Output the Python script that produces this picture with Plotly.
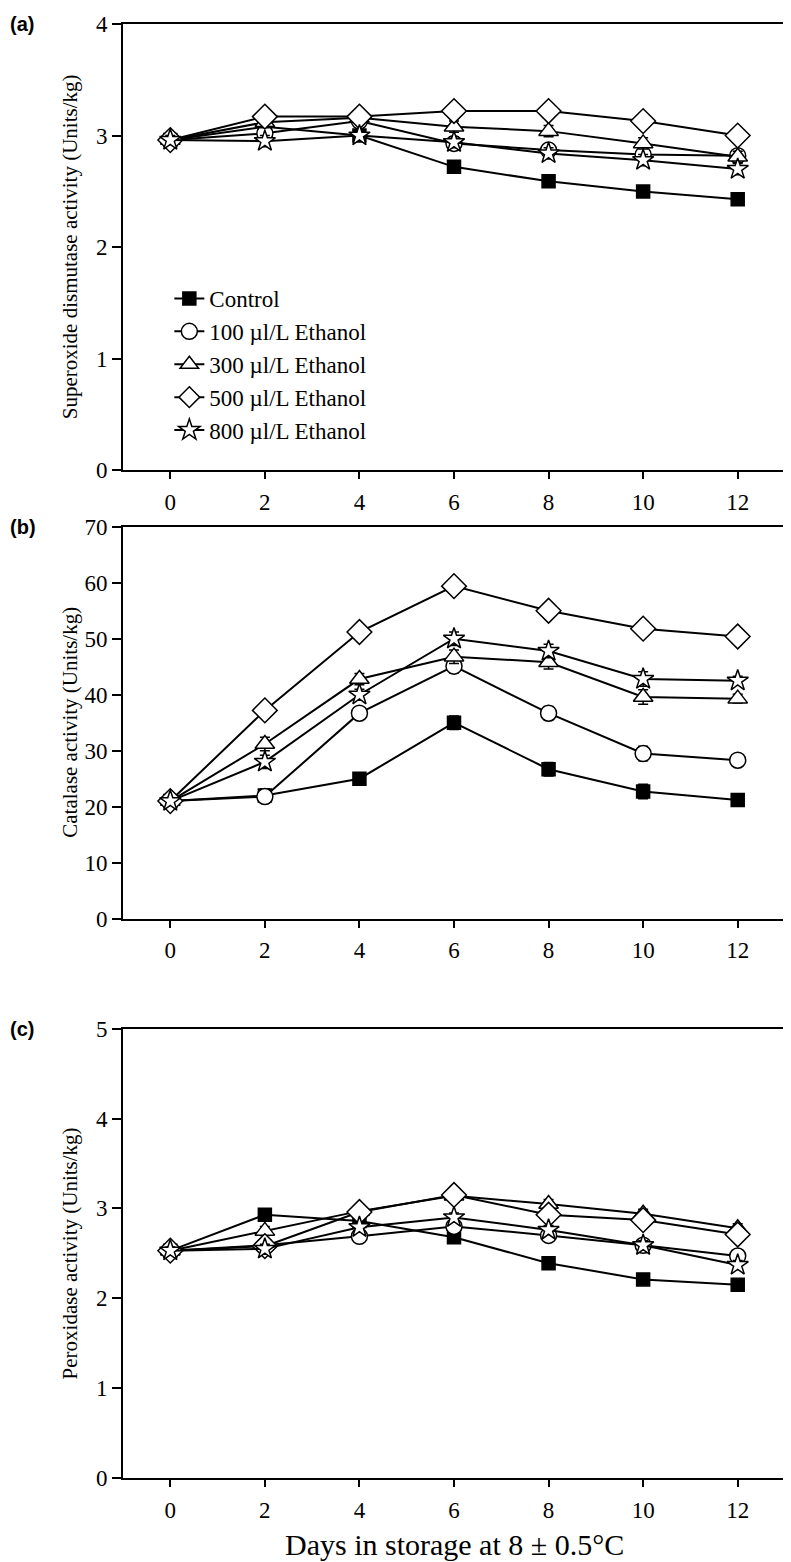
import plotly.graph_objects as go
from plotly.subplots import make_subplots

days = [0, 2, 4, 6, 8, 10, 12]
names = ['Control', '100 µl/L Ethanol', '300 µl/L Ethanol', '500 µl/L Ethanol', '800 µl/L Ethanol']

# (a) superoxide dismutase
sod_control = [2.96, 3.08, 3.00, 2.72, 2.59, 2.50, 2.43]
sod_100 = [2.96, 3.02, 3.13, 2.93, 2.87, 2.83, 2.82]
sod_300 = [2.96, 3.12, 3.16, 3.08, 3.04, 2.93, 2.81]
sod_500 = [2.96, 3.17, 3.17, 3.22, 3.22, 3.13, 3.00]
sod_800 = [2.96, 2.95, 3.00, 2.94, 2.84, 2.78, 2.70]
sod_err = [0.04, 0.05, 0.05, 0.05, 0.05, 0.05, 0.05]

# (b) catalase
cat_control = [21.0, 22.0, 25.0, 35.0, 26.7, 22.7, 21.2]
cat_100 = [21.0, 21.8, 36.7, 45.1, 36.7, 29.5, 28.3]
cat_300 = [21.0, 31.2, 42.8, 46.8, 45.8, 39.6, 39.3]
cat_500 = [21.0, 37.2, 51.2, 59.4, 55.0, 51.8, 50.4]
cat_800 = [21.0, 28.0, 40.0, 50.0, 47.8, 42.8, 42.5]
cat_err = [0.6, 1.2, 1.0, 1.2, 1.2, 1.3, 0.8]

# (c) peroxidase
pod_control = [2.53, 2.93, 2.86, 2.68, 2.39, 2.21, 2.15]
pod_100 = [2.53, 2.59, 2.69, 2.80, 2.70, 2.59, 2.47]
pod_300 = [2.53, 2.75, 2.97, 3.14, 3.05, 2.94, 2.78]
pod_500 = [2.53, 2.58, 2.96, 3.15, 2.93, 2.87, 2.71]
pod_800 = [2.53, 2.55, 2.79, 2.90, 2.76, 2.59, 2.37]
pod_err = [0.04, 0.05, 0.05, 0.05, 0.05, 0.05, 0.05]

panels = [
    [sod_control, sod_100, sod_300, sod_500, sod_800],
    [cat_control, cat_100, cat_300, cat_500, cat_800],
    [pod_control, pod_100, pod_300, pod_500, pod_800],
]
errors = [sod_err, cat_err, pod_err]
symbols = ['square', 'circle', 'triangle-up', 'diamond', 'star']
fills = ['black', 'white', 'white', 'white', 'white']
sizes = [13, 16, 17, 19, 16]

serif = 'Liberation Serif, Times New Roman, serif'

fig = make_subplots(rows=3, cols=1)

for r, series in enumerate(panels):
    for k, vals in enumerate(series):
        fig.add_trace(go.Scatter(
            x=days, y=vals, name=names[k], mode='lines+markers',
            showlegend=(r == 0),
            line=dict(color='black', width=2),
            marker=dict(symbol=symbols[k], size=sizes[k], color=fills[k],
                        line=dict(color='black', width=1.5)),
            error_y=dict(type='data', array=errors[r], color='black', thickness=1.5, width=5),
        ), row=r + 1, col=1)

doms = [[0.6930, 1.0], [0.3847, 0.6542], [0.0, 0.3090]]
yranges = [[0, 4], [0, 70], [0, 5]]
dticks = [1, 10, 1]
titles = ['Superoxide dismutase activity (Units/kg)', 'Catalase activity (Units/kg)',
          'Peroxidase activity (Units/kg)']
labels = ['(a)', '(b)', '(c)']

ax = dict(showline=True, linecolor='black', linewidth=2, mirror=True, showgrid=False,
          zeroline=False, ticks='outside', tickcolor='black', tickwidth=2,
          tickfont=dict(family=serif, size=23, color='black'))

for r in range(3):
    fig.update_xaxes(ax, range=[-1, 13], tickvals=days, ticklen=7, ticklabelstandoff=3,
                     domain=[0, 1], row=r + 1, col=1)
    fig.update_yaxes(ax, range=yranges[r], dtick=dticks[r], ticklen=9,
                     domain=doms[r], row=r + 1, col=1)
    mid = (doms[r][0] + doms[r][1]) / 2
    fig.add_annotation(text=titles[r], xref='paper', yref='paper', x=-0.080, y=mid,
                       textangle=-90, showarrow=False, xanchor='center', yanchor='middle',
                       font=dict(family=serif, size=21, color='black'))
    fig.add_annotation(text='<b>' + labels[r] + '</b>', xref='paper', yref='paper',
                       x=-0.173, y=doms[r][1], showarrow=False, xanchor='left', yanchor='middle',
                       font=dict(family='Liberation Sans, Arial, sans-serif', size=20, color='black'))

fig.add_annotation(text='Days in storage at 8 ± 0.5°C', xref='paper', yref='paper',
                   x=0.5, y=-0.0457, showarrow=False, xanchor='center', yanchor='middle',
                   font=dict(family=serif, size=30, color='black'))

# page body adds an 8px offset, so the figure is shrunk by that amount
fig.update_layout(
    width=783, height=1554,
    margin=dict(l=115, r=6, t=4, b=84),
    paper_bgcolor='white', plot_bgcolor='white',
    legend=dict(x=0.07, y=0.826, xanchor='left', yanchor='top', bgcolor='rgba(0,0,0,0)',
                font=dict(family=serif, size=23, color='black')),
)

fig.write_html("out.html")
